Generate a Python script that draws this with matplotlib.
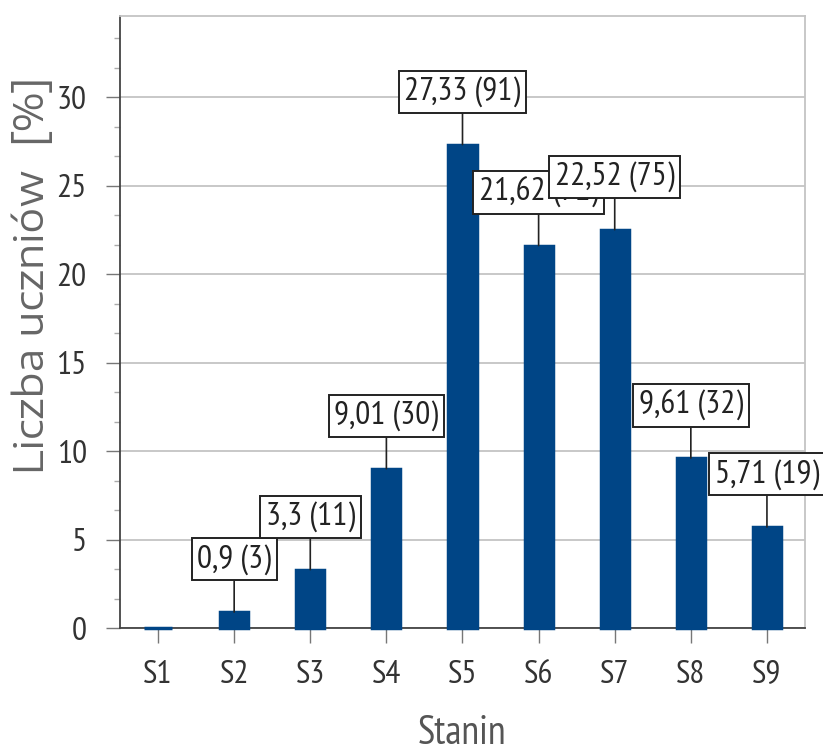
import matplotlib
matplotlib.use("Agg")
from matplotlib import pyplot as plt
from matplotlib.ticker import MultipleLocator

# dane z wykresu
staniny = ["S1", "S2", "S3", "S4", "S5", "S6", "S7", "S8", "S9"]
procent = [0, 0.9, 3.3, 9.01, 27.33, 21.62, 22.52, 9.61, 5.71]
liczba = [0, 3, 11, 30, 91, 72, 75, 32, 19]
etykiety = ["", "0,9 (3)", "3,3 (11)", "9,01 (30)", "27,33 (91)",
            "21,62 (72)", "22,52 (75)", "9,61 (32)", "5,71 (19)"]

narrow = ["PT Sans Narrow", "DejaVu Sans"]
wide = ["Encode Sans Expanded", "Encode Sans Semi Expanded", "DejaVu Sans"]
blue = "#004586"

fig = plt.figure(figsize=(8.23, 7.52), dpi=100)
ax = fig.add_axes([120 / 823, 1 - 628 / 752, (805 - 120) / 823, (628 - 16) / 752])

x = list(range(len(staniny)))
bars = ax.bar(x, procent, width=0.37, color=blue, edgecolor=blue, linewidth=2.5, zorder=3)
for b in bars:
    b.set_clip_on(False)

for i in x:
    if etykiety[i] == "":
        continue
    ax.annotate(etykiety[i], xy=(i, procent[i]), xytext=(0, 38), textcoords="offset points",
                ha="center", va="center", fontsize=24, family=narrow, color="#222222",
                bbox=dict(boxstyle="square,pad=0.17", fc="white", ec="#222222", lw=1.4),
                arrowprops=dict(arrowstyle="-", color="#222222", lw=1.2, shrinkA=0, shrinkB=0),
                zorder=5, annotation_clip=False)

ax.set_xlim(-0.5, 8.5)
ax.set_ylim(0, 34.6)
ax.set_xticks(x)
ax.set_xticklabels(staniny, family=narrow, fontsize=24, color="#333333")
ax.yaxis.set_major_locator(MultipleLocator(5))
ax.yaxis.set_minor_locator(MultipleLocator(5 / 3))
for lab in ax.get_yticklabels():
    lab.set_family(narrow)
    lab.set_fontsize(24)
    lab.set_color("#333333")

ax.tick_params(axis="y", which="major", length=10, width=1, color="#777777", pad=14)
ax.tick_params(axis="y", which="minor", length=4, width=1, color="#aaaaaa")
ax.tick_params(axis="x", which="major", length=11, width=1, color="#777777", pad=12)

ax.grid(axis="y", which="major", color="#c4c4c4", lw=1.3, zorder=0)
ax.set_axisbelow(True)

ax.spines["left"].set_color("#444444")
ax.spines["bottom"].set_color("#444444")
ax.spines["left"].set_linewidth(1.3)
ax.spines["bottom"].set_linewidth(1.3)
ax.spines["top"].set_color("#c4c4c4")
ax.spines["right"].set_color("#c4c4c4")
ax.spines["top"].set_linewidth(1.3)
ax.spines["right"].set_linewidth(1.3)

fig.text(32 / 823, 1 - 275 / 752, "Liczba uczniów  [%]", rotation=90, ha="center", va="center",
         fontsize=29, family=wide, color="#666666")
fig.text(462 / 823, 1 - 733 / 752, "Stanin", ha="center", va="center",
         fontsize=29, family=narrow, color="#555555")

fig.savefig("out.png", dpi=100)
